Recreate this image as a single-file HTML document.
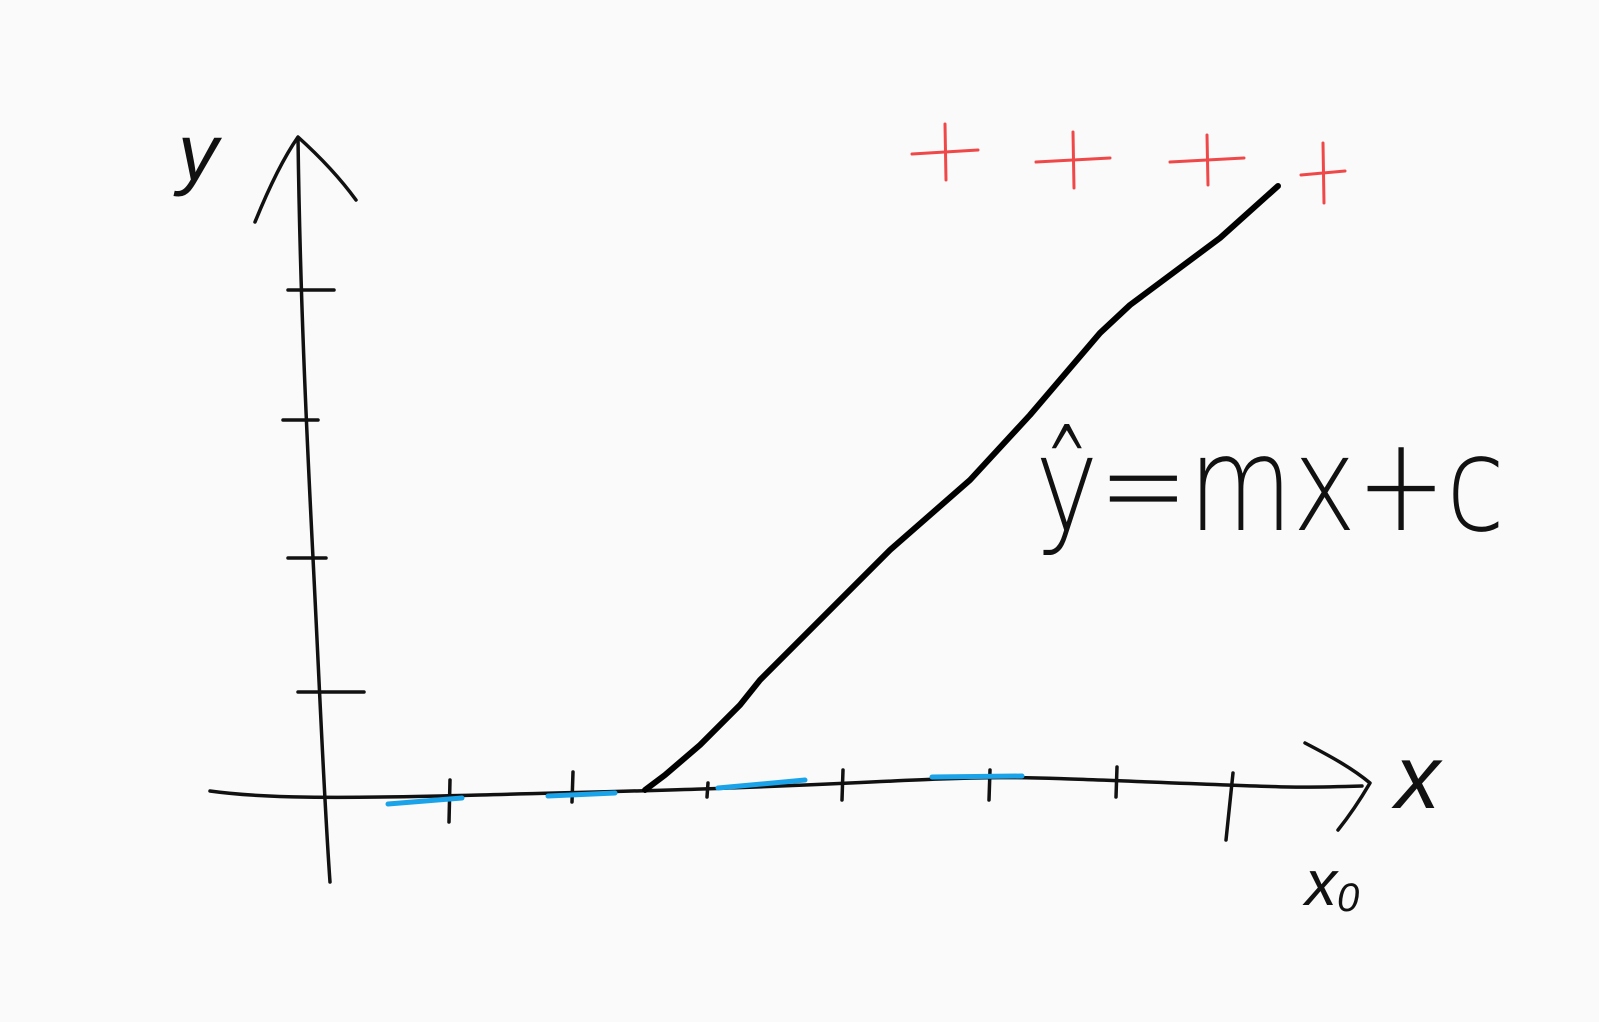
<!DOCTYPE html>
<html><head><meta charset="utf-8">
<style>
html,body{margin:0;padding:0;background:#fafafa;}
svg{display:block;}
text{font-family:"Liberation Sans",sans-serif;}
</style></head>
<body>
<svg id="c" width="1599" height="1022" viewBox="0 0 1599 1022">
<rect width="1599" height="1022" fill="#fafafa"/>
<g fill="none" stroke="#111" stroke-width="3.5" stroke-linecap="round" stroke-linejoin="round">
 <path d="M298,138 C300,290 306,420 313,558 S324,798 330,882"/>
 <path d="M255,222 C268,190 282,160 298,137 C318,155 340,178 356,200"/>
 <path d="M210,791 C260,798 330,799 480,795 S700,790 850,783 S1000,776 1150,782 S1300,788 1362,786"/>
 <path d="M1305,743 C1330,756 1352,768 1370,783 C1360,800 1350,815 1338,830"/>
</g>
<g id="yticks" stroke="#111" stroke-width="3.5" stroke-linecap="round"></g>
<g id="xticks" stroke="#111" stroke-width="3.5" stroke-linecap="round"></g>
<g id="blue" stroke="#1aa3e8" stroke-width="5" stroke-linecap="round"></g>
<g id="red" stroke="#f04848" stroke-width="3" stroke-linecap="round"></g>
<path id="line" fill="none" stroke="#000" stroke-width="6" stroke-linecap="round" stroke-linejoin="round"/>
<text x="178" y="180" font-size="80" font-style="italic" fill="#111">y</text>
<text x="1395" y="808" font-size="90" font-style="italic" fill="#111">x</text>
<text x="1305" y="905" font-size="64" font-style="italic" fill="#111">x<tspan font-size="40" dy="6">0</tspan></text>
<text x="1035" y="530" font-size="132" fill="#111" style="font-family:'DejaVu Sans ExtraLight','DejaVu Sans',sans-serif;font-weight:200" textLength="470" lengthAdjust="spacingAndGlyphs">ŷ=mx+c</text>
</svg>
<script>
const lineX = [645, 665, 700, 740, 760, 830, 890, 970, 1030, 1100, 1130, 1220, 1278];
const lineY = [790, 775, 745, 705, 680, 610, 550, 480, 415, 333, 305, 238, 186];
const yTickY = [290, 420, 558, 692];
const yTickX0 = [288, 283, 288, 298];
const yTickX1 = [334, 318, 326, 364];
const xTickX = [450, 573, 708, 843, 990, 1117, 1233];
const xTickTop = [780, 772, 783, 770, 770, 767, 773];
const xTickBot = [822, 802, 797, 800, 800, 797, 840];
const blueX0 = [388, 548, 718, 932];
const blueX1 = [462, 615, 805, 1022];
const blueY0 = [804, 796, 788, 777];
const blueY1 = [798, 793, 780, 776];
const redX = [945, 1073, 1207, 1323];
const redY = [152, 160, 160, 173];
const redHalfW = [33, 37, 37, 22];
const redHalfH = [28, 28, 25, 30];
const NS = "http://www.w3.org/2000/svg";
function ln(g, x1, y1, x2, y2) {
  const l = document.createElementNS(NS, "line");
  l.setAttribute("x1", x1); l.setAttribute("y1", y1);
  l.setAttribute("x2", x2); l.setAttribute("y2", y2);
  g.appendChild(l); return l;
}
const yt = document.getElementById("yticks");
yTickY.forEach((y, i) => {
  const l = ln(yt, yTickX0[i], y, yTickX1[i], y);
  
  
});
const xt = document.getElementById("xticks");
xTickX.forEach((x, i) => {
  const l = ln(xt, x, xTickTop[i], x - (i === 6 ? 7 : 1), xTickBot[i]);
  
  
});
const bl = document.getElementById("blue");
blueX0.forEach((x, i) => {
  const l = ln(bl, x, blueY0[i], blueX1[i], blueY1[i]);
  
  
});
const rd = document.getElementById("red");
redX.forEach((x, i) => {
  const h = ln(rd, x - redHalfW[i], redY[i] + 2, x + redHalfW[i], redY[i] - 2);
  
  
  const v = ln(rd, x, redY[i] - redHalfH[i], x + 1, redY[i] + redHalfH[i]);
  
  
});
document.getElementById("line").setAttribute("d",
  lineX.map((x, i) => (i ? "L" : "M") + x + "," + lineY[i]).join(" "));
</script>
</body></html>
